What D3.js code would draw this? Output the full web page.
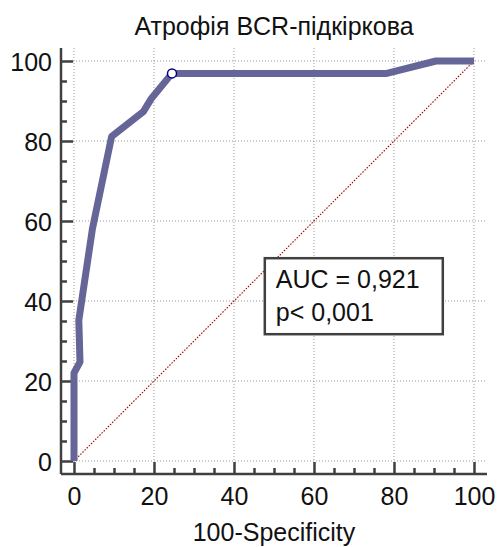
<!DOCTYPE html>
<html>
<head>
<meta charset="utf-8">
<script src="https://cdn.jsdelivr.net/npm/d3@7"></script>
<style>
  body { margin: 0; background: #fff; }
  text { font-family: "Liberation Sans", Arial, sans-serif; fill: #111; }
</style>
</head>
<body>
<div id="roc"></div>
<script>
// ROC curve points
const specComplement = [0, 0, 1.5, 1.2, 4.6, 9.4, 17.3, 19.4, 24.5, 78.2, 90.5, 100];
const sensitivity    = [0, 22, 24.8, 35.2, 58, 81.1, 87.3, 90.7, 96.9, 96.9, 100, 100];
const cutoffPoint = { x: 24.5, y: 96.9 };

const xTicks = [0, 20, 40, 60, 80, 100];
const yTicks = [0, 20, 40, 60, 80, 100];
const legendLines = ["AUC = 0,921", "p< 0,001"];
const title = "Атрофія BCR-підкіркова";
const xLabel = "100-Specificity";

const data = specComplement.map((x, i) => ({ x: x, y: sensitivity[i] }));

const W = 499, H = 547;
const margin = { top: 61, right: 25, bottom: 86, left: 74 };
const width = W - margin.left - margin.right;   // 400
const height = H - margin.top - margin.bottom;  // 400
const fontSize = "25px";

const svg = d3.select("#roc")
    .append("svg")
    .attr("width", W)
    .attr("height", H)
    .append("g")
    .attr("transform", `translate(${margin.left}, ${margin.top})`);

const x = d3.scaleLinear().domain([0, 100]).range([0, width]);
const y = d3.scaleLinear().domain([0, 100]).range([height, 0]);

// axis lines sit a bit outside the plot area
const axisOff = 13;
const gridTop = -13, gridRight = width + 13;

// dotted grid
svg.append("g")
    .selectAll("line")
    .data(xTicks)
    .enter()
    .append("line")
    .attr("x1", d => x(d)).attr("x2", d => x(d))
    .attr("y1", gridTop).attr("y2", height + axisOff)
    .attr("stroke", "#999").attr("stroke-width", 1)
    .attr("stroke-dasharray", "1,2");

svg.append("g")
    .selectAll("line")
    .data(yTicks)
    .enter()
    .append("line")
    .attr("x1", -axisOff).attr("x2", gridRight)
    .attr("y1", d => y(d)).attr("y2", d => y(d))
    .attr("stroke", "#999").attr("stroke-width", 1)
    .attr("stroke-dasharray", "1,2");

// x axis (ticks point inward)
const xAxis = svg.append("g")
    .attr("transform", `translate(0, ${height + axisOff})`);
xAxis.call(d3.axisBottom(x).tickValues(d3.range(0, 101, 5)).tickSize(-6).tickFormat(""));
xAxis.selectAll(".tick line").filter(d => d % 20 === 0).attr("y2", -12);
xAxis.select(".domain").attr("d", `M${-axisOff},0H${gridRight}`);
xAxis.selectAll("line, path").attr("stroke", "#404040").attr("stroke-width", 2.5);
xAxis.selectAll(".tick").filter(d => d % 20 === 0)
    .append("text")
    .attr("y", 31)
    .attr("text-anchor", "middle")
    .style("font-size", fontSize)
    .text(d => d);

// y axis
const yAxis = svg.append("g")
    .attr("transform", `translate(${-axisOff}, 0)`);
yAxis.call(d3.axisLeft(y).tickValues(d3.range(0, 101, 5)).tickSize(-6).tickFormat(""));
yAxis.selectAll(".tick line").filter(d => d % 20 === 0).attr("x2", 12);
yAxis.select(".domain").attr("d", `M0,${gridTop}V${height + axisOff}`);
yAxis.selectAll("line, path").attr("stroke", "#404040").attr("stroke-width", 2.5);
yAxis.selectAll(".tick").filter(d => d % 20 === 0)
    .append("text")
    .attr("x", -9)
    .attr("dy", "0.36em")
    .attr("text-anchor", "end")
    .style("font-size", fontSize)
    .text(d => d);

// reference diagonal
svg.append("line")
    .attr("x1", x(0)).attr("y1", y(0))
    .attr("x2", x(100)).attr("y2", y(100))
    .attr("stroke", "#a01010").attr("stroke-width", 1.2)
    .attr("stroke-dasharray", "1.5,1.5");

// ROC curve
const line = d3.line()
    .x(d => x(d.x))
    .y(d => y(d.y));

svg.append("path")
    .datum(data)
    .attr("fill", "none")
    .attr("stroke", "#656597")
    .attr("stroke-width", 7)
    .attr("stroke-linejoin", "round")
    .attr("d", line);

// optimal cut-off marker
svg.append("circle")
    .attr("cx", x(cutoffPoint.x))
    .attr("cy", y(cutoffPoint.y))
    .attr("r", 4.5)
    .attr("fill", "#fff")
    .attr("stroke", "#00008b")
    .attr("stroke-width", 1.5);

// AUC box
const box = svg.append("g")
    .attr("transform", `translate(${x(47.7)}, ${y(50.7)})`);
box.append("rect")
    .attr("width", 178)
    .attr("height", 76)
    .attr("fill", "#fff")
    .attr("stroke", "#404040")
    .attr("stroke-width", 2.5);
legendLines.forEach((t, i) => {
    box.append("text")
        .attr("x", 11)
        .attr("y", 30 + i * 33)
        .style("font-size", fontSize)
        .text(t);
});

// title
svg.append("text")
    .attr("x", width / 2)
    .attr("y", 35 - margin.top)
    .attr("text-anchor", "middle")
    .style("font-size", fontSize)
    .text(title);

// x label
svg.append("text")
    .attr("x", width / 2)
    .attr("y", 541 - margin.top)
    .attr("text-anchor", "middle")
    .style("font-size", fontSize)
    .text(xLabel);
</script>
</body>
</html>
